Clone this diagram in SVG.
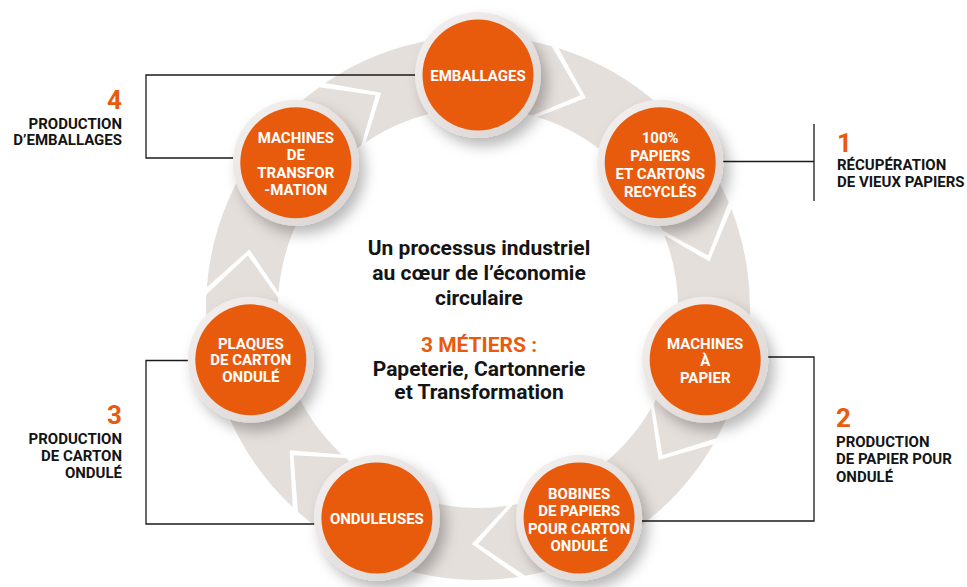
<svg xmlns="http://www.w3.org/2000/svg" width="967" height="587" viewBox="0 0 967 587">
<defs>
<style>
.band{fill:#e5dfdb}
.ln{fill:none;stroke:#1a1a1a;stroke-width:1.3}
.ring{fill:url(#ringG)}
.core{fill:#e95b0c}
.ct{font-family:Roboto,"Liberation Sans",sans-serif;font-weight:700;font-size:15px;fill:#ffffff;text-anchor:middle}
.lb{font-family:Roboto,"Liberation Sans",sans-serif;font-weight:700;font-size:15px;fill:#141414}
.num{font-family:Roboto,"Liberation Sans",sans-serif;font-weight:700;font-size:26px;fill:#e95b0c}
.mid{font-family:Roboto,"Liberation Sans",sans-serif;font-weight:700;font-size:21px;fill:#141414;text-anchor:middle}
.or{fill:#e95b0c}
.r{text-anchor:end}
</style>
<linearGradient id="ringG" x1="0" y1="0" x2="1" y2="1">
<stop offset="0" stop-color="#f5f2f1"/>
<stop offset="1" stop-color="#d9d2cf"/>
</linearGradient>
<filter id="sh" x="-40%" y="-40%" width="190%" height="190%">
<feDropShadow dx="6" dy="8" stdDeviation="7" flood-color="#000000" flood-opacity="0.28"/>
</filter>
<path id="arr" class="band" d="M 136.29 -235.39 A 272 272 0 0 1 267.87 -47.23 L 236 0 L 196.96 -34.73 A 200 200 0 0 0 100.21 -173.08 L 151.92 -180.60 Z"/>
</defs>
<rect width="967" height="587" fill="#ffffff"/>
<g id="connectors">
<g id="flow-arrows" transform="translate(478 308)">
<use href="#arr" transform="rotate(-64.286)"/>
<use href="#arr" transform="rotate(-12.857)"/>
<use href="#arr" transform="rotate(38.571)"/>
<use href="#arr" transform="rotate(90)"/>
<use href="#arr" transform="rotate(141.429)"/>
<use href="#arr" transform="rotate(192.857)"/>
<use href="#arr" transform="rotate(244.286)"/>
</g>
<g id="brackets">
<path class="ln" d="M 478 75 H 146 V 158 H 296"/>
<path class="ln" d="M 660 161.5 H 814 M 814 124 V 201"/>
<path class="ln" d="M 705 357 H 814 V 521 H 579"/>
<path class="ln" d="M 251 360.5 H 146 V 524 H 377"/>
</g>
</g>
<g id="n-emballages">
<circle class="ring" cx="478" cy="75" r="63" filter="url(#sh)"/>
<circle class="core" cx="478" cy="75" r="55.5"/>
<text class="ct" x="478" y="80.5">EMBALLAGES</text>
</g>
<g id="n-recycles">
<circle class="ring" cx="660.2" cy="162.7" r="63" filter="url(#sh)"/>
<circle class="core" cx="660.2" cy="162.7" r="55.5"/>
<text class="ct" x="660.2" y="142.5">100%</text>
<text class="ct" x="660.2" y="160.5">PAPIERS</text>
<text class="ct" x="660.2" y="178.5">ET CARTONS</text>
<text class="ct" x="660.2" y="196.5">RECYCLÉS</text>
</g>
<g id="n-machines-papier">
<circle class="ring" cx="705.2" cy="359.8" r="63" filter="url(#sh)"/>
<circle class="core" cx="705.2" cy="359.8" r="55.5"/>
<text class="ct" x="705.2" y="348.5">MACHINES</text>
<text class="ct" x="705.2" y="365.5">À</text>
<text class="ct" x="705.2" y="382.5">PAPIER</text>
</g>
<g id="n-bobines">
<circle class="ring" cx="579.1" cy="517.9" r="63" filter="url(#sh)"/>
<circle class="core" cx="579.1" cy="517.9" r="55.5"/>
<text class="ct" x="579.1" y="498.5">BOBINES</text>
<text class="ct" x="579.1" y="516">DE PAPIERS</text>
<text class="ct" x="579.1" y="533.5">POUR CARTON</text>
<text class="ct" x="579.1" y="551">ONDULÉ</text>
</g>
<g id="n-onduleuses">
<circle class="ring" cx="376.9" cy="517.9" r="63" filter="url(#sh)"/>
<circle class="core" cx="376.9" cy="517.9" r="55.5"/>
<text class="ct" x="376.9" y="523.5">ONDULEUSES</text>
</g>
<g id="n-plaques">
<circle class="ring" cx="250.8" cy="359.8" r="63" filter="url(#sh)"/>
<circle class="core" cx="250.8" cy="359.8" r="55.5"/>
<text class="ct" x="250.8" y="348.5">PLAQUES</text>
<text class="ct" x="250.8" y="365">DE CARTON</text>
<text class="ct" x="250.8" y="381.5">ONDULÉ</text>
</g>
<g id="n-machines-transformation">
<circle class="ring" cx="295.8" cy="162.7" r="63" filter="url(#sh)"/>
<circle class="core" cx="295.8" cy="162.7" r="55.5"/>
<text class="ct" x="295.8" y="142.5">MACHINES</text>
<text class="ct" x="295.8" y="160">DE</text>
<text class="ct" x="295.8" y="177.5">TRANSFOR</text>
<text class="ct" x="295.8" y="195">-MATION</text>
</g>
<g id="label-4">
<text class="num r" x="122" y="108.5">4</text>
<text class="lb r" x="122" y="128.5">PRODUCTION</text>
<text class="lb r" x="122" y="145">D’EMBALLAGES</text>
</g>
<g id="label-1">
<text class="num" x="837" y="152">1</text>
<text class="lb" x="837" y="170">RÉCUPÉRATION</text>
<text class="lb" x="837" y="186.5">DE VIEUX PAPIERS</text>
</g>
<g id="label-2">
<text class="num" x="836" y="427">2</text>
<text class="lb" x="836" y="447">PRODUCTION</text>
<text class="lb" x="836" y="464">DE PAPIER POUR</text>
<text class="lb" x="836" y="481.5">ONDULÉ</text>
</g>
<g id="label-3">
<text class="num r" x="122" y="423.5">3</text>
<text class="lb r" x="122" y="443.5">PRODUCTION</text>
<text class="lb r" x="122" y="460.5">DE CARTON</text>
<text class="lb r" x="122" y="478">ONDULÉ</text>
</g>
<g id="center-text">
<text class="mid" x="479" y="255">Un processus industriel</text>
<text class="mid" x="479" y="280">au cœur de l’économie</text>
<text class="mid" x="479" y="305">circulaire</text>
<text class="mid or" x="479" y="352">3 MÉTIERS :</text>
<text class="mid" x="479" y="375.5">Papeterie, Cartonnerie</text>
<text class="mid" x="479" y="399">et Transformation</text>
</g>
</svg>
